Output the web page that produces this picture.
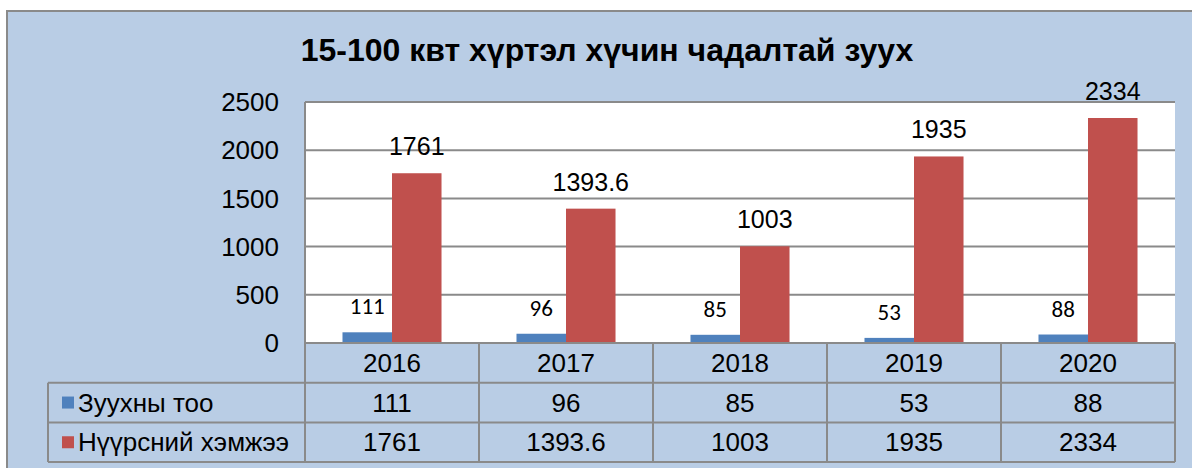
<!DOCTYPE html>
<meta charset="utf-8" />
<style>
  body {
    margin: 0px;
    background: #fff;
  }
  text {
    font-family: "Liberation Sans", Arial, sans-serif;
    fill: #000;
  }
  .grid line {
    stroke: #8a8a8a;
    stroke-width: 2px;
  }
  .tbl line {
    stroke: #8a8a8a;
    stroke-width: 2px;
  }
</style>
<body>
<script src="https://d3js.org/d3.v7.min.js"></script>
<script>
  var width = 1192,
    height = 468;

  var title = "15-100 квт хүртэл хүчин чадалтай зуух";
  var years = ["2016", "2017", "2018", "2019", "2020"];
  var seriesNames = ["Зуухны тоо", "Нүүрсний хэмжээ"];
  var boilers = [111, 96, 85, 53, 88];
  var coal = [1761, 1393.6, 1003, 1935, 2334];
  var coalLabels = ["1761", "1393.6", "1003", "1935", "2334"];
  var yTicks = [0, 500, 1000, 1500, 2000, 2500];
  var colors = ["#4F81BD", "#C0504D"];

  var series = [
    { name: seriesNames[0], values: boilers, labels: boilers.map(String) },
    { name: seriesNames[1], values: coal, labels: coalLabels },
  ];

  var plot = { left: 305, right: 1175, top: 102, bottom: 343 };
  var rowH = 39.7;
  var legendLeft = 48;

  var svg = d3
    .select("body")
    .append("svg")
    .attr("width", width)
    .attr("height", height);

  // outer frame
  svg
    .append("rect")
    .attr("x", 7)
    .attr("y", 11)
    .attr("width", width)
    .attr("height", height)
    .attr("fill", "#B9CDE5")
    .attr("stroke", "#8a8a8a")
    .attr("stroke-width", 2);

  svg
    .append("text")
    .attr("x", 607)
    .attr("y", 61)
    .attr("text-anchor", "middle")
    .style("font-size", "32px")
    .style("font-weight", "bold")
    .text(title);

  var x0 = d3
    .scaleBand()
    .domain(years)
    .range([plot.left, plot.right]);

  var x1 = d3
    .scaleBand()
    .domain(d3.range(series.length))
    .range([0, x0.bandwidth()])
    .paddingOuter(0.757);

  var y = d3
    .scaleLinear()
    .domain([0, 2500])
    .range([plot.bottom, plot.top]);

  // plot area
  svg
    .append("rect")
    .attr("x", plot.left)
    .attr("y", plot.top)
    .attr("width", plot.right - plot.left)
    .attr("height", plot.bottom - plot.top)
    .attr("fill", "#fff");

  var grid = svg.append("g").attr("class", "grid");
  grid
    .selectAll("line")
    .data(yTicks.slice(1))
    .enter()
    .append("line")
    .attr("x1", plot.left)
    .attr("x2", plot.right)
    .attr("y1", function (d) { return y(d); })
    .attr("y2", function (d) { return y(d); });
  grid
    .append("line")
    .attr("x1", plot.left)
    .attr("x2", plot.left)
    .attr("y1", plot.top)
    .attr("y2", plot.bottom);

  // y axis labels
  svg
    .append("g")
    .selectAll("text")
    .data(yTicks)
    .enter()
    .append("text")
    .attr("x", 279)
    .attr("y", function (d) { return y(d); })
    .attr("dy", "0.35em")
    .attr("text-anchor", "end")
    .style("font-size", "26px")
    .text(function (d) { return d; });

  // bars
  series.forEach(function (s, si) {
    var g = svg.append("g");
    g.selectAll("rect")
      .data(s.values)
      .enter()
      .append("rect")
      .attr("x", function (d, i) { return x0(years[i]) + x1(si); })
      .attr("width", x1.bandwidth())
      .attr("y", function (d) { return y(d); })
      .attr("height", function (d) { return y(0) - y(d); })
      .attr("fill", colors[si]);

    g.selectAll("text")
      .data(s.values)
      .enter()
      .append("text")
      .attr("x", function (d, i) { return x0(years[i]) + x1(si) + x1.bandwidth() / 2; })
      .attr("y", function (d) { return y(d) - 18; })
      .attr("text-anchor", "middle")
      .style("font-size", si == 0 ? "23px" : "25px")
      .style("font-family", si == 0 ? "Carlito, Calibri, Lato, sans-serif" : null)
      .text(function (d, i) { return s.labels[i]; });
  });

  // data table
  var tbl = svg.append("g").attr("class", "tbl");
  var rows = [plot.bottom, plot.bottom + rowH, plot.bottom + 2 * rowH, plot.bottom + 3 * rowH];

  tbl
    .append("line")
    .attr("x1", plot.left)
    .attr("x2", plot.right)
    .attr("y1", rows[0])
    .attr("y2", rows[0]);
  [1, 2, 3].forEach(function (r) {
    tbl
      .append("line")
      .attr("x1", legendLeft)
      .attr("x2", plot.right)
      .attr("y1", rows[r])
      .attr("y2", rows[r]);
  });
  years.forEach(function (yr) {
    tbl
      .append("line")
      .attr("x1", x0(yr))
      .attr("x2", x0(yr))
      .attr("y1", rows[0])
      .attr("y2", rows[3]);
  });
  tbl
    .append("line")
    .attr("x1", plot.right)
    .attr("x2", plot.right)
    .attr("y1", rows[0])
    .attr("y2", rows[3]);
  tbl
    .append("line")
    .attr("x1", legendLeft)
    .attr("x2", legendLeft)
    .attr("y1", rows[1])
    .attr("y2", rows[3]);

  svg
    .append("g")
    .selectAll("text")
    .data(years)
    .enter()
    .append("text")
    .attr("x", function (d) { return x0(d) + x0.bandwidth() / 2; })
    .attr("y", rows[0] + rowH / 2)
    .attr("dy", "0.35em")
    .attr("text-anchor", "middle")
    .style("font-size", "26px")
    .text(function (d) { return d; });

  series.forEach(function (s, si) {
    var cy = rows[si + 1] + rowH / 2;
    svg
      .append("rect")
      .attr("x", 62)
      .attr("y", cy - 6)
      .attr("width", 12)
      .attr("height", 12)
      .attr("fill", colors[si]);
    svg
      .append("text")
      .attr("x", 78)
      .attr("y", cy)
      .attr("dy", "0.35em")
      .style("font-size", "26px")
      .text(s.name);
    svg
      .append("g")
      .selectAll("text")
      .data(s.labels)
      .enter()
      .append("text")
      .attr("x", function (d, i) { return x0(years[i]) + x0.bandwidth() / 2; })
      .attr("y", cy)
      .attr("dy", "0.35em")
      .attr("text-anchor", "middle")
      .style("font-size", "26px")
      .text(function (d) { return d; });
  });
</script>
</body>
